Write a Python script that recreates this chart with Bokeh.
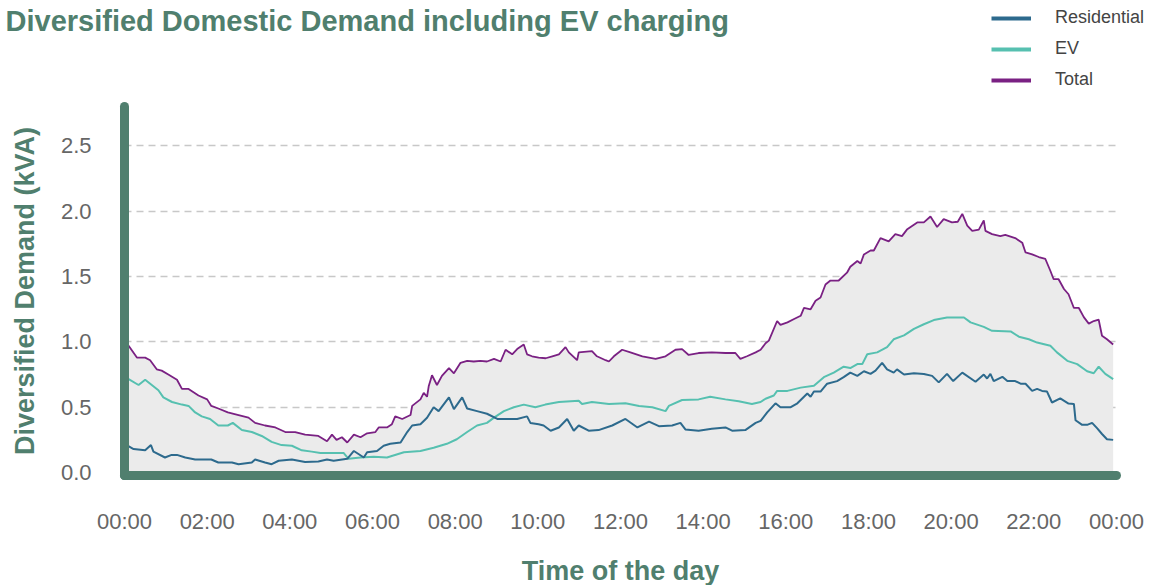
from bokeh.plotting import figure
from bokeh.models import Range1d, FixedTicker, Legend, LegendItem, ColumnDataSource, Label
from bokeh.embed import file_html
from bokeh.resources import INLINE

# ---------------- data (hours of day, kVA) ----------------
tick_hours = [0, 2, 4, 6, 8, 10, 12, 14, 16, 18, 20, 22, 24]
tick_labels = ["00:00", "02:00", "04:00", "06:00", "08:00", "10:00", "12:00",
               "14:00", "16:00", "18:00", "20:00", "22:00", "00:00"]
y_ticks = [0.0, 0.5, 1.0, 1.5, 2.0, 2.5]
y_axis_top = 2.80

total_hours = [0.00, 0.10, 0.30, 0.50, 0.62, 0.78, 0.90, 1.06, 1.27, 1.39, 1.55, 1.79, 2.00, 2.10,
               2.27, 2.50, 2.76, 3.00, 3.16, 3.40, 3.65, 3.89, 4.13, 4.37, 4.69, 4.90, 5.02, 5.13,
               5.26, 5.39, 5.55, 5.71, 5.87, 6.07, 6.15, 6.35, 6.47, 6.55, 6.72, 6.92, 6.96, 7.16,
               7.24, 7.32, 7.36, 7.44, 7.56, 7.68, 7.85, 7.97, 8.13, 8.29, 8.45, 8.61, 8.77, 8.94,
               9.10, 9.22, 9.38, 9.50, 9.66, 9.74, 9.86, 10.02, 10.19, 10.35, 10.51, 10.67, 10.75,
               10.95, 10.99, 11.31, 11.43, 11.64, 11.72, 11.84, 12.04, 12.24, 12.53, 12.85, 13.09,
               13.33, 13.49, 13.65, 13.89, 14.21, 14.54, 14.78, 14.90, 15.06, 15.27, 15.39, 15.51,
               15.59, 15.79, 15.87, 16.04, 16.20, 16.36, 16.44, 16.60, 16.72, 16.84, 16.96, 17.08,
               17.28, 17.48, 17.56, 17.73, 17.81, 17.89, 18.05, 18.13, 18.29, 18.49, 18.65, 18.81,
               18.93, 19.18, 19.34, 19.50, 19.66, 19.82, 20.02, 20.16, 20.27, 20.39, 20.51, 20.67,
               20.79, 20.83, 20.99, 21.19, 21.31, 21.55, 21.72, 21.80, 21.96, 22.12, 22.28, 22.40,
               22.48, 22.60, 22.73, 22.84, 22.97, 23.09, 23.21, 23.33, 23.45, 23.57, 23.65, 23.77,
               23.92]
total_kva = [1.00, 0.97, 0.88, 0.88, 0.86, 0.79, 0.78, 0.75, 0.71, 0.64, 0.64, 0.59, 0.56, 0.51,
             0.49, 0.46, 0.44, 0.42, 0.38, 0.36, 0.345, 0.31, 0.31, 0.29, 0.28, 0.24, 0.29, 0.25,
             0.27, 0.23, 0.29, 0.27, 0.30, 0.31, 0.345, 0.345, 0.37, 0.43, 0.41, 0.44, 0.51, 0.56,
             0.61, 0.58, 0.66, 0.745, 0.67, 0.74, 0.80, 0.76, 0.84, 0.855, 0.85, 0.855, 0.85, 0.87,
             0.85, 0.94, 0.905, 0.945, 0.98, 0.905, 0.89, 0.88, 0.875, 0.89, 0.905, 0.96, 0.92,
             0.86, 0.92, 0.93, 0.89, 0.86, 0.85, 0.89, 0.94, 0.92, 0.89, 0.87, 0.89,
             0.94, 0.945, 0.90, 0.915, 0.92, 0.915, 0.915, 0.87, 0.89, 0.92, 0.94, 0.99,
             1.01, 1.16, 1.13, 1.15, 1.175, 1.20, 1.26, 1.25, 1.315, 1.34, 1.44, 1.47,
             1.47, 1.53, 1.575, 1.62, 1.60, 1.67, 1.70, 1.70, 1.795, 1.77, 1.825, 1.81,
             1.86, 1.915, 1.915, 1.96, 1.88, 1.94, 1.915, 1.92, 1.98, 1.89, 1.85, 1.86,
             1.93, 1.85, 1.825, 1.81, 1.82, 1.795, 1.76, 1.685, 1.67, 1.65, 1.635, 1.545,
             1.48, 1.48, 1.405, 1.365, 1.26, 1.26, 1.19, 1.14, 1.16, 1.17, 1.047, 1.02,
             0.98]

ev_hours = [0.00, 0.10, 0.34, 0.50, 0.66, 0.82, 0.94, 1.15, 1.39, 1.55, 1.71, 1.87, 2.07, 2.27,
            2.50, 2.62, 2.84, 3.08, 3.32, 3.56, 3.80, 4.05, 4.29, 4.53, 4.74, 5.30, 5.42, 5.71,
            6.03, 6.35, 6.76, 7.16, 7.48, 7.80, 8.04, 8.29, 8.53, 8.77, 8.94, 9.18, 9.42, 9.66,
            9.94, 10.18, 10.51, 10.99, 11.07, 11.31, 11.72, 12.12, 12.45, 12.77, 13.09, 13.17,
            13.49, 13.89, 14.17, 14.54, 14.86, 15.18, 15.39, 15.51, 15.71, 15.79, 16.04, 16.36,
            16.68, 16.92, 17.16, 17.40, 17.56, 17.73, 17.85, 17.97, 18.21, 18.45, 18.61, 18.86,
            19.10, 19.34, 19.58, 19.90, 20.31, 20.47, 20.79, 20.99, 21.44, 21.64, 21.88, 22.08,
            22.40, 22.56, 22.81, 23.05, 23.29, 23.45, 23.57, 23.73, 23.92]
ev_kva = [0.72, 0.715, 0.67, 0.71, 0.67, 0.63, 0.575, 0.54, 0.52, 0.51, 0.46, 0.43, 0.41, 0.36,
          0.36, 0.38, 0.325, 0.31, 0.28, 0.235, 0.21, 0.205, 0.17, 0.16, 0.15, 0.15, 0.105, 0.115,
          0.12, 0.115, 0.155, 0.165, 0.19, 0.22, 0.255, 0.31, 0.36, 0.38, 0.42, 0.47, 0.50, 0.52,
          0.50, 0.52, 0.54, 0.55, 0.525, 0.54, 0.525, 0.53, 0.51, 0.50, 0.47, 0.51,
          0.555, 0.56, 0.58, 0.56, 0.545, 0.525, 0.54, 0.565, 0.59, 0.625, 0.625, 0.65,
          0.665, 0.73, 0.765, 0.81, 0.80, 0.83, 0.83, 0.905, 0.92, 0.96, 1.02, 1.05,
          1.10, 1.135, 1.167, 1.187, 1.187, 1.15, 1.115, 1.085, 1.08, 1.04, 1.02, 0.995,
          0.97, 0.92, 0.855, 0.83, 0.775, 0.76, 0.81, 0.755, 0.715]

res_hours = [0.00, 0.22, 0.50, 0.64, 0.70, 0.98, 1.14, 1.27, 1.47, 1.71, 2.10, 2.27, 2.60, 2.76,
             3.08, 3.16, 3.40, 3.56, 3.73, 4.05, 4.37, 4.69, 4.90, 5.06, 5.39, 5.55, 5.79, 5.87,
             6.11, 6.27, 6.43, 6.68, 6.84, 6.96, 7.16, 7.32, 7.48, 7.60, 7.85, 7.97, 8.17, 8.29,
             8.53, 8.77, 9.02, 9.26, 9.50, 9.74, 9.82, 10.02, 10.14, 10.31, 10.51, 10.71, 10.87,
             10.99, 11.23, 11.47, 11.80, 12.12, 12.41, 12.69, 12.93, 13.25, 13.45, 13.57, 13.89,
             14.21, 14.54, 14.70, 15.02, 15.27, 15.39, 15.55, 15.75, 15.87, 16.12, 16.28, 16.52,
             16.60, 16.68, 16.84, 17.00, 17.24, 17.40, 17.56, 17.73, 17.89, 18.05, 18.17, 18.33,
             18.45, 18.61, 18.69, 18.86, 19.10, 19.34, 19.54, 19.70, 19.90, 20.05, 20.27, 20.59,
             20.79, 20.87, 20.95, 21.03, 21.24, 21.36, 21.55, 21.68, 21.80, 21.96, 22.08, 22.20,
             22.32, 22.44, 22.64, 22.84, 22.97, 23.01, 23.17, 23.29, 23.41, 23.53, 23.65, 23.77,
             23.92]
res_kva = [0.22, 0.18, 0.17, 0.21, 0.16, 0.115, 0.135, 0.135, 0.115, 0.10, 0.10, 0.077, 0.077, 0.064,
           0.077, 0.10, 0.077, 0.064, 0.09, 0.10, 0.08, 0.085, 0.10, 0.09, 0.105, 0.165, 0.115, 0.155,
           0.165, 0.205, 0.22, 0.23, 0.31, 0.36, 0.37, 0.42, 0.50, 0.47, 0.575, 0.485, 0.575, 0.49,
           0.47, 0.45, 0.41, 0.41, 0.41, 0.43, 0.38, 0.37, 0.36, 0.32, 0.345, 0.41, 0.32,
           0.36, 0.32, 0.325, 0.36, 0.41, 0.345, 0.39, 0.355, 0.36, 0.38, 0.33, 0.32,
           0.335, 0.345, 0.32, 0.325, 0.38, 0.395, 0.46, 0.53, 0.50, 0.50, 0.53, 0.605,
           0.58, 0.62, 0.62, 0.68, 0.70, 0.73, 0.765, 0.74, 0.775, 0.755, 0.78, 0.84,
           0.79, 0.765, 0.79, 0.75, 0.76, 0.755, 0.74, 0.69, 0.755, 0.70, 0.765, 0.695,
           0.75, 0.72, 0.755, 0.70, 0.733, 0.70, 0.70, 0.68, 0.68, 0.625, 0.64, 0.625,
           0.62, 0.536, 0.567, 0.528, 0.525, 0.40, 0.365, 0.365, 0.38, 0.34, 0.295, 0.255,
           0.25]

series_names = ["Residential", "EV", "Total"]
title_text = "Diversified Domestic Demand including EV charging"

# ---------------- styling ----------------
GREEN = "#507F6E"
C_RES = "#2D6A8D"
C_EV = "#56C0B0"
C_TOT = "#7A2183"
FONT = "Liberation Sans"
X0_AXIS = -0.023  # where the time axis sits (just below zero)

# The frame covers the whole canvas; the axes are placed with fixed_location.
p = figure(width=1153, height=585, output_backend="svg", toolbar_location=None,
           x_range=Range1d(-3.0, 24.896), y_range=Range1d(-0.865, 3.614),
           min_border=0)
p.outline_line_color = None
p.background_fill_color = "white"

# fill under total
p.varea(x=total_hours, y1=[0] * len(total_hours), y2=total_kva, fill_color="#ebebeb")

src_r = ColumnDataSource(dict(x=res_hours, y=res_kva))
src_e = ColumnDataSource(dict(x=ev_hours, y=ev_kva))
src_t = ColumnDataSource(dict(x=total_hours, y=total_kva))
p.line("x", "y", source=src_e, line_color=C_EV, line_width=2)
p.line("x", "y", source=src_r, line_color=C_RES, line_width=2)
p.line("x", "y", source=src_t, line_color=C_TOT, line_width=1.8)

# title (inside the full-canvas frame)
p.add_layout(Label(x=5, y=565, x_units="screen", y_units="screen", text=title_text,
                   text_font=FONT, text_font_size="29px", text_font_style="bold",
                   text_color=GREEN, text_baseline="alphabetic", text_align="left"))

# legend proxies (thicker swatches; hidden renderers, shown only in the legend)
lr = p.line("x", "y", source=src_r, line_color=C_RES, line_width=4, visible=False)
le = p.line("x", "y", source=src_e, line_color=C_EV, line_width=4, visible=False)
lt = p.line("x", "y", source=src_t, line_color=C_TOT, line_width=4, visible=False)
legend = Legend(items=[LegendItem(label=series_names[0], renderers=[lr]),
                       LegendItem(label=series_names[1], renderers=[le]),
                       LegendItem(label=series_names[2], renderers=[lt])],
                location=(991, 495), orientation="vertical",
                glyph_width=40, glyph_height=20, label_height=20, label_standoff=24,
                spacing=10, padding=0, margin=0,
                label_text_font=FONT, label_text_font_size="18px", label_text_color="#444444",
                border_line_color=None, background_fill_alpha=0,
                inactive_fill_alpha=0)
p.add_layout(legend, "center")

# axes
for ax in (p.xaxis[0], p.yaxis[0]):
    ax.axis_line_color = GREEN
    ax.axis_line_width = 9
    ax.axis_line_cap = "round"
    ax.major_tick_line_color = None
    ax.minor_tick_line_color = None
    ax.major_tick_out = 0
    ax.major_tick_in = 0
    ax.major_label_text_font = FONT
    ax.major_label_text_font_size = "22px"
    ax.major_label_text_color = "#666666"
    ax.axis_label_text_font = FONT
    ax.axis_label_text_font_style = "bold"
    ax.axis_label_text_font_size = "27px"
    ax.axis_label_text_color = GREEN
    ax.major_label_standoff = 33

p.xaxis.fixed_location = X0_AXIS
p.xaxis.bounds = (tick_hours[0], tick_hours[-1])
p.xaxis.ticker = FixedTicker(ticks=tick_hours)
p.xaxis.major_label_overrides = {h: lab for h, lab in zip(tick_hours, tick_labels)}
p.xaxis.axis_label = "Time of the day"
p.xaxis.axis_label_standoff = 19

p.yaxis.fixed_location = tick_hours[0]
p.yaxis.bounds = (X0_AXIS, y_axis_top)
p.yaxis.ticker = FixedTicker(ticks=y_ticks)
p.yaxis.major_label_overrides = {v: f"{v:.1f}" for v in y_ticks}
p.yaxis.axis_label = "Diversified Demand (kVA)"
p.yaxis.axis_label_standoff = 18

p.xgrid.visible = False
p.ygrid.ticker = FixedTicker(ticks=y_ticks)
p.ygrid.cross_bounds = (tick_hours[0], tick_hours[-1])
p.ygrid.grid_line_color = "#c8c8c8"
p.ygrid.grid_line_width = 1.5
p.ygrid.grid_line_dash = "7 5"

open("out.html", "w").write(file_html(p, INLINE))
